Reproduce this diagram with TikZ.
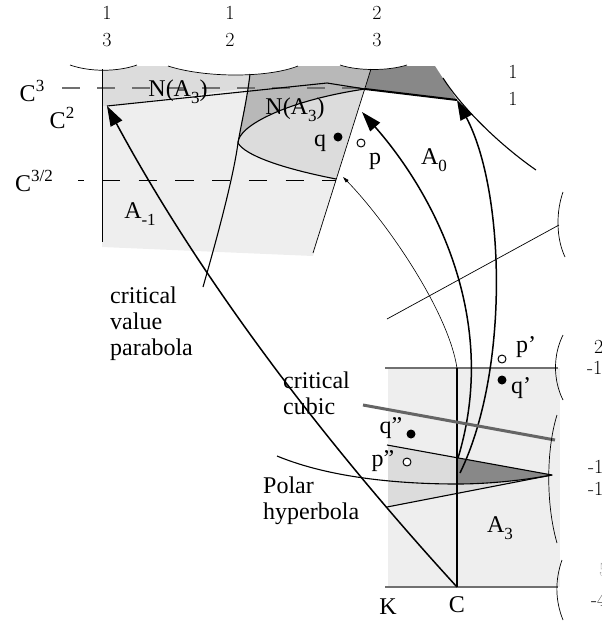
\documentclass[tikz,border=0pt]{standalone}
\usepackage{fontspec}
\setmainfont{Liberation Serif}
\usetikzlibrary{arrows.meta}
\newcommand\mylm{\fontfamily{lmr}\selectfont}
\newcommand\mysub[1]{\raisebox{-0.28em}{\fontsize{17}{17}\selectfont #1}}
\newcommand\mysup[1]{\raisebox{0.45em}{\fontsize{17}{17}\selectfont #1}}
\definecolor{gA}{HTML}{EEEEEE}
\definecolor{gB}{HTML}{DCDCDC}
\definecolor{gC}{HTML}{B8B8B8}
\definecolor{gD}{HTML}{888888}
\definecolor{gL}{HTML}{707070}
\tikzset{
  lbl/.style={font=\fontsize{24}{26}\selectfont, inner sep=0pt},
  num/.style={font=\mylm\fontsize{20}{20}\selectfont, inner sep=0pt},
  ln/.style={line width=1.1pt},
  thinln/.style={line width=0.7pt},
  thickln/.style={line width=2pt},
  bigarrow/.style={line width=1.5pt, -{Triangle[length=20pt,width=13pt]}},
  smallarrow/.style={line width=0.6pt, -{Triangle[length=6pt,width=3.5pt]}},
  grayln/.style={line width=1.6pt, draw=gL},
  cubicln/.style={line width=3pt, draw=gL!90!black},
  fulldot/.style={circle, fill=black, inner sep=0pt, minimum size=9pt},
  opendot/.style={circle, draw=black, line width=1pt, fill=white, inner sep=0pt, minimum size=8pt},
  capwhite/.style={fill=white},
}
\begin{document}
\begin{tikzpicture}[x=1pt,y=-1pt,line join=round]
\useasboundingbox (0,0) rectangle (602,625);
% key points
\coordinate (V) at (238,143);
\coordinate (J) at (365,89);
\coordinate (L) at (336,179);
\coordinate (T) at (457,100);
\coordinate (NA) at (107,106);
\coordinate (NB) at (327,83);
% ---------- upper region fills
\fill[gA] (102,66) -- (371,66) -- (313,256) -- (102,247) -- cycle;
\fill[gB] (102,66) -- (249.5,66) -- (248.5,88) -- (NA) -- (102,106) -- cycle;
\fill[gC] (250.5,66) -- (371,66) -- (J) .. controls (290,100) and (238,125) .. (V) .. controls (241,125) and (247,100) .. (250,72) -- cycle;
\fill[gB] (V) .. controls (238,125) and (290,100) .. (J) -- (L) .. controls (280,168) and (245,155) .. (V) -- cycle;
\fill[gD] (371,66) -- (435,66) -- (T) -- (J) -- cycle;
% white caps above the top arcs
\fill[capwhite] (70,58) -- (70,65) .. controls (90,72) and (117,72) .. (137,65) -- (137,58) -- cycle;
\fill[capwhite] (168,58) -- (168,66) .. controls (205,78) and (268,78) .. (298,66) -- (298,58) -- cycle;
\fill[capwhite] (340,58) -- (340,65) .. controls (358,71) and (388,71) .. (407,65) -- (407,58) -- cycle;
\draw[thinln] (70,65) .. controls (90,72) and (117,72) .. (137,65);
\draw[thinln] (168,66) .. controls (205,78) and (268,78) .. (298,66);
\draw[thinln] (340,65) .. controls (358,71) and (388,71) .. (407,65);
% dashed levels
\draw[line width=1.1pt, gL, dash pattern=on 18.3pt off 16.7pt] (62,88) -- (360,88);
\draw[line width=0.8pt, dash pattern=on 18.3pt off 18.4pt, dash phase=12.7pt] (78,180) -- (336,180);
% upper lines
\draw[thinln] (102,69) -- (102,242);
\draw[ln] (250,74) .. controls (247,100) and (241,125) .. (V) .. controls (233,180) and (215,245) .. (203,287);
\draw[ln] (J) .. controls (290,100) and (238,125) .. (V) .. controls (245,155) and (280,168) .. (L);
\draw[thinln] (371,69) -- (313,253);
\draw[ln] (NA) -- (NB) -- (J);
\draw[thickln] (J) -- (T);
\draw[ln] (443,78) .. controls (462,108) and (500,145) .. (536,170);
% ---------- lower region fills
\fill[gA] (388,368) rectangle (560,587);
\fill[gB] (388,445.2) -- (457,457.7) -- (457,493.4) -- (388,507) -- cycle;
\fill[gD] (457,457.7) -- (552,475) .. controls (525,480) and (490,484) .. (457,484) -- cycle;
\fill[gB] (457,484) .. controls (490,484) and (525,480) .. (552,475) -- (457,493.4) -- cycle;
\coordinate (Ctop) at (457,368);
\coordinate (Cbot) at (457,587);
\coordinate (W) at (552,475);
\draw[grayln] (385,368) -- (558,368);
\draw[grayln] (385,587) -- (558,587);
\draw[ln] (Ctop) -- (Cbot);
\draw[ln] (387,445) -- (W) -- (387,507);
\draw[ln] (277,456) .. controls (330,478) and (400,484) .. (457,484) .. controls (490,484) and (525,480) .. (W);
% arrows
\draw[bigarrow] (Cbot) .. controls (309.7,426) and (193,265.7) .. (NA);
\draw[bigarrow] (458,458) .. controls (500,320) and (435,195) .. (362,112);
\draw[bigarrow] (460,473) .. controls (510,370) and (505,190) .. (T);
\draw[smallarrow] (Ctop) .. controls (448,310) and (385,220) .. (343,177);
\draw[cubicln] (363,405) -- (555,440);
% straight thin line and right brackets
\coordinate (R0) at (559,225);
\draw[thinln] (387,319) -- (R0);
\draw[thinln] (563,192) .. controls (556,212) and (556,238) .. (565,257);
\draw[thinln] (563,335) .. controls (553,355) and (553,380) .. (563,400);
\draw[thinln] (557,415) .. controls (546,450) and (546,505) .. (557,543);
\draw[thinln] (562,560) .. controls (555,580) and (555,600) .. (563,620);
% dots
\node[fulldot] (qd) at (338,137) {};
\node[opendot] (pd) at (361,143) {};
\node[opendot] (p1d) at (502,359) {};
\node[fulldot] (q1d) at (502,380) {};
\node[fulldot] (q2d) at (411,434) {};
\node[opendot] (p2d) at (407,462) {};
% labels
\node[lbl] (lq) at (320,143) {q};
\node[lbl] (lp) at (375,161) {p};
\node[lbl] (lp1) at (526,347) {p'};
\node[lbl] (lq1) at (521,388) {q'};
\node[lbl] (lq2) at (391,428) {q''};
\node[lbl] (lp2) at (383,461) {p''};
\node[lbl] (lK) at (388,607) {K};
\node[lbl] (lC) at (457,605) {C};
\node[lbl] (lA0) at (434,160) {A\mysub{0}};
\node[lbl] (lA3) at (500,528) {A\mysub{3}};
\node[lbl] (lAm) at (140,214) {A\mysub{-1}};
\node[lbl] (lN1) at (178,92) {N(A\mysub{3})};
\node[lbl] (lN2) at (295,110) {N(A\mysub{3})};
\node[lbl] (lC3) at (32,91) {C\mysup{3}};
\node[lbl] (lC2) at (62,118) {C\mysup{2}};
\node[lbl] (lC32) at (34,181) {C\mysup{3/2}};
\node[lbl,anchor=base west] (cv1) at (110,303) {critical};
\node[lbl,anchor=base west] (cv2) at (110,329) {value};
\node[lbl,anchor=base west] (cv3) at (110,355) {parabola};
\node[lbl,anchor=base west] (cc1) at (283,388) {critical};
\node[lbl,anchor=base west] (cc2) at (283,414) {cubic};
\node[lbl,anchor=base west] (ph1) at (263,493) {Polar};
\node[lbl,anchor=base west] (ph2) at (263,519) {hyperbola};
% numbers
\node[num] (n1a) at (107,13) {1};
\node[num] (n1b) at (107,40) {3};
\node[num] (n2a) at (230,13) {1};
\node[num] (n2b) at (230,40) {2};
\node[num] (n3a) at (377,13) {2};
\node[num] (n3b) at (377,40) {3};
\node[num] (n4a) at (513,72) {1};
\node[num] (n4b) at (513,99) {1};
\node[num,anchor=west] (r1a) at (594,347) {2};
\node[num,anchor=west] (r1b) at (587,368) {-1};
\node[num,anchor=west] (r2a) at (588,467) {-1};
\node[num,anchor=west] (r2b) at (588,489) {-1};
\node[num,anchor=west,text=black!35] (r3a) at (599,570) {5};
\node[num,anchor=west] (r3b) at (591,600) {-4};
\end{tikzpicture}
\end{document}
